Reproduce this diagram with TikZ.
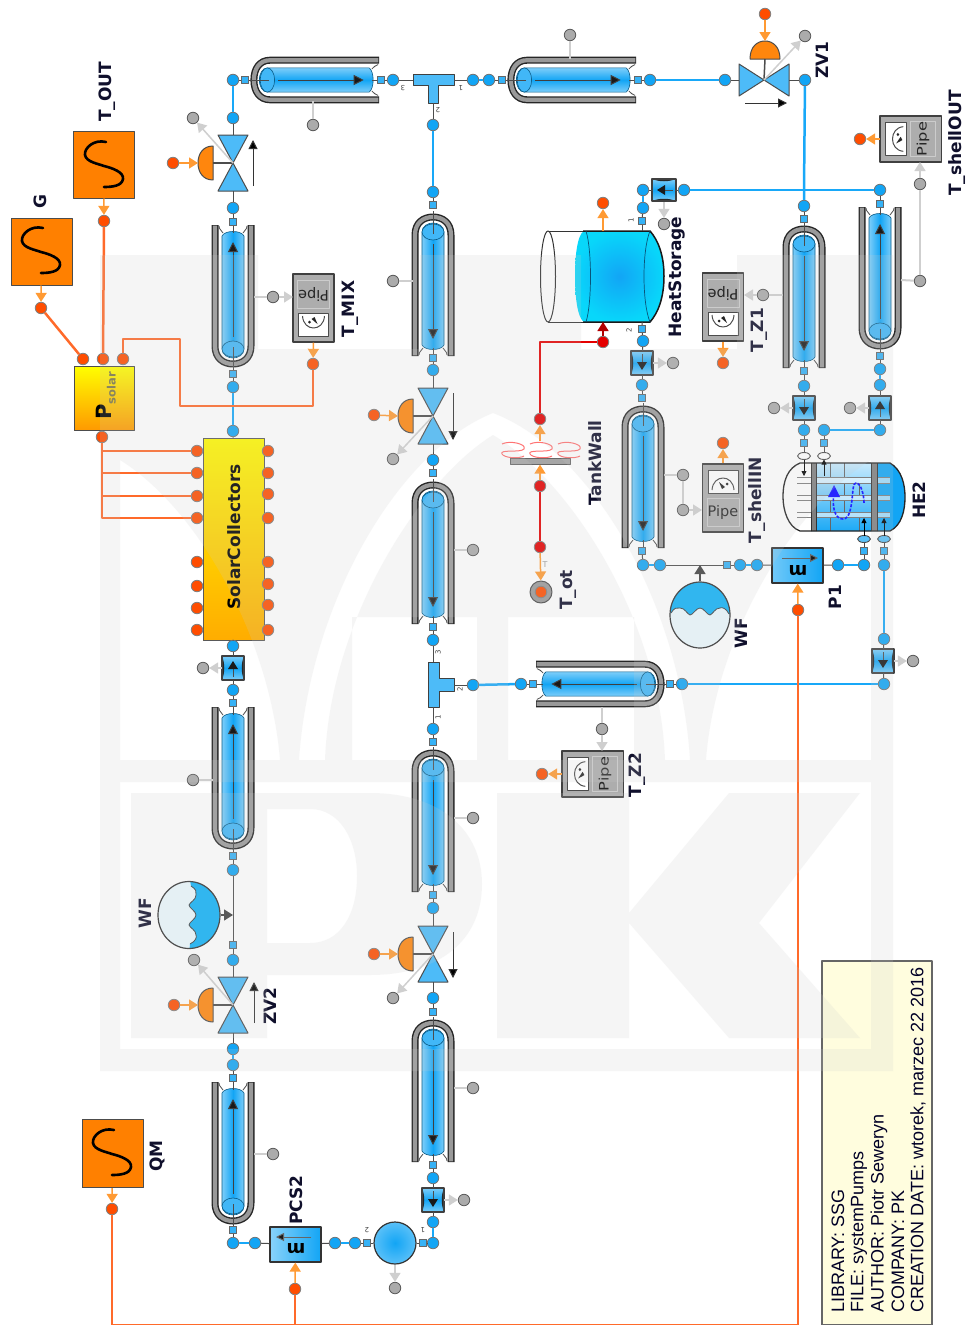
\documentclass[tikz,border=0pt]{standalone}
\usepackage{fontspec}
\setmainfont{DejaVu Sans}
\newfontfamily\arialf{Liberation Sans}
\usetikzlibrary{arrows.meta,calc}
\definecolor{bluec}{HTML}{12A5F5}
\definecolor{bwire}{HTML}{18A8F8}
\definecolor{owire}{HTML}{FF6A2A}
\definecolor{osig}{HTML}{FF9A33}
\definecolor{gsigc}{HTML}{CFCFCF}
\definecolor{lblc}{HTML}{10102C}
\definecolor{orange}{HTML}{FF8000}
\tikzset{
 bport/.style={circle,draw=black!55,fill=bluec,line width=.8pt,minimum size=11.5pt,inner sep=0pt},
 bsq/.style={rectangle,draw=black!60,fill=bluec!85,line width=.8pt,minimum size=7.5pt,inner sep=0pt},
 gport/.style={circle,draw=black!65,fill=black!33,line width=.8pt,minimum size=11.5pt,inner sep=0pt},
 oport/.style={circle,draw=black!50,fill=orange!60!red,line width=.8pt,minimum size=11.5pt,inner sep=0pt},
 rport/.style={circle,draw=black!50,fill=red!90!black,line width=.8pt,minimum size=11.5pt,inner sep=0pt},
 bw/.style={draw=bwire,line width=2.5pt},
 ow/.style={draw=owire,line width=2.5pt},
 rw/.style={draw=red!90!black,line width=2.5pt},
 stem/.style={draw=black!70,line width=1pt},
 gw/.style={draw=gsigc,line width=2pt},
 sig/.style={draw=osig,line width=1.5pt,-{Triangle[length=9pt,width=11pt,fill=osig]}},
 gsig/.style={draw=gsigc,line width=1.5pt,-{Triangle[length=9pt,width=11pt,fill=gsigc]}},
 srcbox/.style={rectangle,draw=black!70,fill=orange,line width=1pt,inner sep=0pt},
 lbl/.style={rotate=90,text=lblc,font=\fontsize{17}{17}\selectfont\bfseries,inner sep=0pt},
 tiny/.style={text=black!75,font=\fontsize{7}{7}\selectfont,inner sep=0pt},
 info/.style={rotate=90,anchor=west,text=black!85!blue,font=\arialf\fontsize{18}{18}\selectfont,inner sep=0pt},
}
\newcommand\bp[3]{\node[bport] (#1) at (#2,#3) {};}
\newcommand\bs[3]{\node[bsq] (#1) at (#2,#3) {};}
\newcommand\gp[3]{\node[gport] (#1) at (#2,#3) {};}
\newcommand\op[3]{\node[oport] (#1) at (#2,#3) {};}
\newcommand\rp[3]{\node[rport] (#1) at (#2,#3) {};}
% pipe: name, open end x,y, rot, xscale, yscale
\newcommand\jpipe[6]{%
\begin{scope}[shift={(#2,#3)},rotate=#4,xscale=#5,yscale=#6]
 \fill[white] (0,-18) -- (121,-18) .. controls (133,-18) and (139,-10) .. (139,0) .. controls (139,10) and (133,18) .. (121,18) -- (0,18) -- cycle;
 \draw[black!85,line width=7pt] (0,-18) -- (121,-18) .. controls (133,-18) and (139,-10) .. (139,0) .. controls (139,10) and (133,18) .. (121,18) -- (0,18);
 \draw[black!40,line width=4.2pt] (.7,-18) -- (121,-18) .. controls (133,-18) and (139,-10) .. (139,0) .. controls (139,10) and (133,18) .. (121,18) -- (.7,18);
 \draw[black!70,line width=.8pt] (1,-14) .. controls (5,-14) and (5,-11) .. (8,-10);
 \draw[black!70,line width=.8pt] (1,14) .. controls (5,14) and (5,11) .. (8,10);
 \shade[top color=bluec!55,bottom color=bluec!55,middle color=bluec,shading angle=#4,draw=black!45!bluec,line width=.6pt]
   (11,-11) -- (124,-11) .. controls (130,-11) and (133,-5) .. (133,0) .. controls (133,5) and (130,11) .. (124,11) -- (11,11) .. controls (5,8) and (5,-8) .. (11,-11) -- cycle;
 \draw[black!45!bluec,fill=bluec!80,line width=.6pt] (124,0) ellipse [x radius=8,y radius=11];
 \draw[stem] (-3,0) -- (8,0);
 \draw[stem] (122,0) -- (145,0);
 \draw[black!75,line width=1pt,-{Triangle[length=10pt,width=10pt,fill=black!90]}] (112,0) -- (17,0);
\end{scope}}
% valve: name,x,y,rot,a,b
\newcommand\valve[6]{%
\begin{scope}[shift={(#2,#3)},rotate=#4]
 \fill[bluec!75,draw=black!70,line width=1pt] (0,0) -- (-#6,-#5) -- (#6,-#5) -- cycle;
 \fill[bluec!75,draw=black!70,line width=1pt] (0,0) -- (-#6,#5) -- (#6,#5) -- cycle;
 \coordinate (#1a) at (0,-#5); \coordinate (#1b) at (0,#5); \coordinate (#1c) at (0,0);
\end{scope}}
% actuator: name, flat centre x,y, rot, r1(depth), r2(half width)
\newcommand\act[6]{%
\begin{scope}[shift={(#2,#3)},rotate=#4]
 \fill[orange!95,draw=black!70,line width=1pt] (0,-#6) .. controls (-.7*#5,-#6) and (-#5,-.5*#6) .. (-#5,0) .. controls (-#5,.5*#6) and (-.7*#5,#6) .. (0,#6) -- cycle;
 \coordinate (#1) at (-#5,0);
\end{scope}}
% flow sensor: name,x,y,rot
\newcommand\fsens[4]{%
\begin{scope}[shift={(#2,#3)},rotate=#4]
 \shade[left color=bluec!55,right color=bluec!55,middle color=bluec,shading angle=0] (-11,-12) rectangle (11,12);
 \fill[black!85] (-11,-12) .. controls (-8,-4) and (-8,4) .. (-11,12) -- cycle;
 \fill[black!85] (11,-12) .. controls (8,-4) and (8,4) .. (11,12) -- cycle;
 \draw[black!75,line width=1.5pt] (-11,-12) rectangle (11,12);
 \draw[black!70,line width=1pt] (0,-9) -- (0,4);
 \fill[black!90] (-5,-1) -- (5,-1) -- (0,7) -- cycle;
 \node[inner sep=0pt,minimum width=22pt,minimum height=24pt] (#1) at (0,0) {};
\end{scope}}
% temperature sensor: name,x,y,rot,sx,sy
\newcommand\sens[6]{%
\begin{scope}[shift={(#2,#3)},rotate=#4,xscale=#5,yscale=#6]
 \fill[black!32,draw=black!75,line width=1.2pt] (-20.5,-34) rectangle (20.5,34);
 \fill[white,draw=black!70,line width=.8pt] (-15,-28) rectangle (15,-5);
 \fill[black!32,draw=black!20,line width=1pt] (-16,0) rectangle (16,28);
 \draw[black!70,line width=1pt] (-11,-8) .. controls (-10,-24) and (10,-24) .. (11,-8);
 \fill[black!85] (-4,-16) -- (2,-11) -- (-1,-9) -- cycle;
 \fill[black!85] (4,-14) circle (1.5);
 \node[transform shape,inner sep=0pt,text=black!85,font=\fontsize{14.5}{15}\selectfont] at (0,14) {Pipe};
 \node[inner sep=0pt,minimum size=1pt] (#1a) at (0,-34) {};
 \node[inner sep=0pt,minimum size=1pt] (#1b) at (0,34) {};
\end{scope}}
% expansion tank: name,x,y,rot,rx,ry
\newcommand\wftank[6]{%
\begin{scope}[shift={(#2,#3)},rotate=#4]
 \begin{scope}
  \clip (0,0) ellipse [x radius=#5,y radius=#6];
  \fill[cyan!8] (-40,-40) rectangle (40,40);
  \fill[bluec!85!cyan] (-40,-40) -- (40,-40) -- (40,0) -- (29,-1) .. controls (26,-7) and (22,-8) .. (20,-7) .. controls (15,-7) and (13,-1) .. (10,0) .. controls (7,0) and (4,-7) .. (0,-7) .. controls (-4,-7) and (-7,0) .. (-10,0) .. controls (-13,-1) and (-15,-7) .. (-20,-7) .. controls (-23,-8) and (-26,-7) .. (-29,-2) -- (-40,0) -- cycle;
  \draw[black!75,line width=.8pt] (-29,-2) .. controls (-26,-7) and (-23,-8) .. (-20,-7) .. controls (-15,-7) and (-13,-1) .. (-10,0) .. controls (-7,0) and (-4,-7) .. (0,-7) .. controls (4,-7) and (7,0) .. (10,0) .. controls (13,-1) and (15,-7) .. (20,-7) .. controls (22,-8) and (26,-7) .. (29,-1);
 \end{scope}
 \draw[black!80,line width=1.2pt] (0,0) ellipse [x radius=#5,y radius=#6];
 \node[inner sep=0pt,minimum size=1pt] (#1) at (0,-#6) {};
\end{scope}}
\newcommand\lab[3]{\node[lbl] (#1) at (#2) {#3};}
\newcommand\sss[2]{\draw[black,line width=2.6pt,line cap=round,shift={(#1,#2)}] (2,-22) .. controls (-10,-25) and (-20,-16) .. (-19,-9) .. controls (-18,-2) and (-5,0) .. (0,2) .. controls (8,4) and (20,8) .. (19,15) .. controls (18,22) and (8,23) .. (0,23);}
\begin{document}
\begin{tikzpicture}[x=1pt,y=-1pt,line join=round]
\useasboundingbox (0,0) rectangle (972,1325);
\fill[white] (0,0) rectangle (972,1325);

%%%%% info box
\node[rectangle,draw=black!60,fill=yellow!13,line width=1.2pt,minimum width=110pt,minimum height=364pt,inner sep=0pt] (infobox) at (877,1143) {};
\node[info] (i1) at (838,1313) {LIBRARY: SSG};
\node[info] (i2) at (859,1313) {FILE: systemPumps};
\node[info] (i3) at (879,1313) {AUTHOR: Piotr Seweryn};
\node[info] (i4) at (898,1313) {COMPANY: PK};
\node[info] (i5) at (918,1313) {CREATION DATE: wtorek, marzec 22 2016};

%%%%% sources and Psolar
\node[srcbox,minimum width=61pt,minimum height=67pt] (G) at (41.5,251.5) {};
\sss{41}{250}
\node[srcbox,minimum width=61pt,minimum height=67pt] (TOUT) at (103.5,164.5) {};
\sss{104}{164}
\node[srcbox,minimum width=61pt,minimum height=68pt] (QM) at (112.5,1153.5) {};
\sss{112}{1152}
\op{Gp}{41}{308}
\op{TOUTp}{104}{221}
\op{QMp}{112}{1209}
\draw[sig] (G) -- (Gp);
\draw[sig] (TOUT) -- (TOUTp);
\draw[sig] (QM) -- (QMp);
\node[rectangle,draw=black!70,top color=yellow,bottom color=orange!80!yellow,line width=1pt,minimum width=60pt,minimum height=64pt,inner sep=0pt] (Ps) at (104,398) {};
\node[rotate=90,inner sep=0pt,text=black] (Pst) at (106,396) {\fontsize{21}{21}\selectfont\bfseries P\raisebox{-4pt}{\textcolor{black!60!yellow}{\fontsize{11.5}{12}\selectfont solar}}};
\op{Ps1}{83}{359}\op{Ps2}{103}{359}\op{Ps3}{123}{359}\op{Ps4}{102}{437}

%%%%% Solar collectors
\node[rectangle,draw=black!65,top color=yellow!95!orange,bottom color=orange!65!yellow,line width=1pt,minimum width=61pt,minimum height=202pt,inner sep=0pt] (SC) at (233.5,539) {};
\node[rotate=90,inner sep=0pt,text=black,font=\fontsize{17}{17}\selectfont\bfseries] (SCt) at (234,537) {SolarCollectors};
\op{SL1}{197}{451}\op{SL2}{197}{473}\op{SL3}{197}{496}\op{SL4}{197}{518}
\op{SL5}{197}{562}\op{SL6}{197}{586}\op{SL7}{197}{608}\op{SL8}{197}{630}
\op{SR1}{268}{451}\op{SR2}{268}{473}\op{SR3}{268}{494}\op{SR4}{268}{518}
\op{SR5}{268}{562}\op{SR6}{268}{584}\op{SR7}{268}{605}\op{SR8}{268}{630}
\coordinate (pb1) at (102,451);\coordinate (pb2) at (102,473);\coordinate (pb3) at (102,496);\coordinate (pb4) at (102,518);
\draw[ow] (Ps4) -- (pb4) -- (SL4);
\draw[ow] (pb1) -- (SL1);\draw[ow] (pb2) -- (SL2);\draw[ow] (pb3) -- (SL3);
\draw[ow] (Gp) -- (Ps1);
\draw[ow] (TOUTp) -- (Ps2);

%%%%% pipes
\jpipe{P1}{379}{80}{180}{.9}{1.1}
\jpipe{P2}{636}{80}{180}{.9}{1.1}
\jpipe{P3}{536}{684}{0}{.9}{1.1}
\jpipe{P4}{233}{225}{-90}{1}{1}
\jpipe{P5}{233}{707}{-90}{1}{1}
\jpipe{P6}{233}{1082}{-90}{1}{1}
\jpipe{P7}{880}{207}{-90}{1}{1}
\jpipe{P8}{433}{356}{90}{1}{1}
\jpipe{P9}{433}{624}{90}{1}{1}
\jpipe{P10}{433}{892}{90}{1}{1}
\jpipe{P11}{433}{1162}{90}{1}{1}
\jpipe{P12}{643}{548}{90}{1}{1}
\jpipe{P13}{804}{368}{90}{1}{1}

%%%%% ports along pipes
% top row
\bp{a1}{233}{80}\bs{a2}{245}{80}\bs{a3}{381}{80}\bp{a4}{393}{80}
\bp{a5}{473}{80}\bp{a6}{489}{80}\bs{a7}{502}{80}\bs{a8}{638}{80}\bp{a9}{650}{80}\bp{a10}{725}{80}\bp{a11}{805}{80}
\gp{g1}{313}{125}\gp{g2}{570}{35}
\coordinate (g1c) at (313,101);\coordinate (g2c) at (570,59);
\draw[gw] (g1) -- (g1c);\draw[gw] (g2) -- (g2c);
\draw[stem] (a1)--(a2);\draw[stem] (a3)--(a4);\draw[stem] (a6)--(a7);\draw[stem] (a8)--(a9);
\draw[bw] (a5)--(a6);\draw[bw] (a9)--(a10);

% top T
\fill[bluec!75,draw=black!75,line width=1pt] (413,74) -- (454,74) -- (454,85) -- (438,85) -- (438,103) -- (428,103) -- (428,85) -- (413,85) -- cycle;
\bp{t1}{433}{125}
\coordinate (T1l) at (413,80);\coordinate (T1r) at (454,80);\coordinate (T1b) at (433,103);
\draw[stem] (a4)--(T1l);\draw[stem] (T1r)--(a5);\draw[stem] (T1b)--(t1);
\node[tiny,rotate=180] (n3a) at (403,88) {3};
\node[tiny,rotate=180] (n1a) at (461,88) {1};
\node[tiny,rotate=180] (n2a) at (438,110) {2};

% left column upper
\valve{V1}{233}{163}{0}{28}{15}
\act{A1}{213}{163}{0}{15}{17}
\op{A1p}{173}{163}
\draw[sig] (A1p) -- (A1);
\draw[stem,line width=1.5pt] (213,163) -- (V1c);
\draw[black!80,line width=1pt,-{Triangle[length=9pt,width=9pt,fill=black]}] (253,186) -- (253,140);
\gp{A1g}{193}{118}
\draw[gsig] (V1c) -- (A1g);
\bp{b1}{233}{118}\bp{b2}{233}{208}\bs{b3}{233}{222}\bs{b4}{233}{374}\bp{b5}{233}{387}\bp{b6}{233}{431}
\draw[bw] (a1)--(b1);\draw[stem] (b1)--(V1a);\draw[stem] (V1b)--(b2)--(b3);\draw[stem] (b4)--(b5);\draw[bw] (b5)--(b6);

% T_MIX
\sens{TM}{313.5}{308}{180}{1}{1}
\gp{TMg}{273}{297}\op{TMo}{313}{364}
\coordinate (P4s) at (254,297);\coordinate (TMin) at (293,297);
\draw[gw] (P4s)--(TMg);
\draw[gsig] (TMg) -- (TMin);
\draw[sig] (TMa) -- (TMo);
\coordinate (w1) at (123,339);\coordinate (w2) at (180,339);\coordinate (w3) at (180,406);\coordinate (w4) at (313,406);
\draw[ow] (Ps3) -- (w1) -- (w2) -- (w3) -- (w4) -- (TMo);

% left column lower
\bp{c1}{233}{646}\fsens{FS1}{233}{668}{180}\bp{c2}{233}{690}\bs{c3}{233}{703}\bs{c4}{233}{856}\bp{c5}{233}{870}\bs{c6}{233}{945}\bp{c7}{233}{960}
\gp{c1g}{203}{668}\draw[gsig] (FS1) -- (c1g);
\draw[stem] (c2)--(FS1);\draw[stem] (FS1)--(c1);\draw[stem] (c2)--(c3);\draw[stem] (c4)--(c5)--(c6)--(c7);
\gp{g5}{193}{780}\coordinate (g5c) at (213,780);\draw[gw] (g5)--(g5c);
\wftank{W1}{189}{915}{-90}{33.5}{31}
\coordinate (W1t) at (233,915);
\draw[black!75,line width=1.5pt,-{Triangle[length=9pt,width=11pt,fill=black!75]}] (W1) -- (W1t);
\valve{V2}{233}{1005}{0}{28}{15}
\act{A2}{213}{1005}{0}{15}{17}
\op{A2p}{174}{1005}
\draw[sig] (A2p) -- (A2);
\draw[stem,line width=1.5pt] (213,1005) -- (V2c);
\draw[black!80,line width=1pt,-{Triangle[length=9pt,width=9pt,fill=black]}] (254,1023) -- (254,982);
\gp{A2g}{194}{960}\draw[gsig] (V2c) -- (A2g);
\bp{c8}{233}{1049}\bp{c9}{233}{1065}\bs{c10}{233}{1078}\bs{c11}{233}{1230}\bp{c12}{233}{1243}\bp{c13}{255}{1243}
\draw[stem] (c7)--(V2a);\draw[stem] (V2b)--(c8);\draw[bw] (c8)--(c9);\draw[stem] (c9)--(c10);\draw[stem] (c11)--(c12);\draw[bw] (c12)--(c13);
\gp{g6}{273}{1154}\coordinate (g6c) at (254,1154);\draw[gw] (g6)--(g6c);
\draw[stem] (SC)--(c1);\draw[stem] (b6)--(SC);

% pump PCS2
\node[rectangle,draw=black!80,left color=bluec!50,right color=bluec,line width=1.2pt,minimum width=51pt,minimum height=35pt,inner sep=0pt] (PCS) at (295.5,1244.5) {};
\draw[black!60,line width=1pt,-{Triangle[length=8pt,width=8pt,fill=black!90]}] (311,1237) -- (276,1237);
\node[rotate=180,inner sep=0pt,text=black,font=\fontsize{18}{18}\selectfont\bfseries] (PCSt) at (296,1249) {m};
\op{PCSo}{295}{1289}
\draw[sig] (PCSo) -- (PCS);
\bp{d1}{335}{1243}\bp{d2}{355}{1243}\bs{d3}{367}{1243}
\node[circle,draw=black!80,inner color=bluec,outer color=bluec!70,line width=1.2pt,minimum size=42pt,inner sep=0pt] (BIG) at (395,1243) {};
\bs{d4}{423}{1243}\bp{d5}{433}{1243}\bp{d6}{433}{1222}\fsens{FS2}{433}{1200}{0}\bp{d7}{433}{1178}\bs{d8}{433}{1165}
\gp{d9}{395}{1288}\draw[gsig] (BIG) -- (d9);
\gp{d10}{464}{1200}\draw[gsig] (FS2) -- (d10);
\draw[stem] (c13)--(PCS);\draw[stem] (PCS)--(d1);\draw[bw] (d1)--(d2);\draw[stem] (d2)--(d3)--(BIG);\draw[stem] (BIG)--(d4)--(d5);\draw[bw] (d5)--(d6);\draw[stem] (d6)--(FS2);\draw[stem] (FS2)--(d7)--(d8);
\node[tiny,rotate=180] (n2c) at (367,1230) {2};
\node[tiny,rotate=180] (n1c) at (423,1230) {1};

% middle column
\bp{e1}{433}{192}\bs{e2}{433}{205}\bs{e3}{433}{358}\bp{e4}{433}{370}
\draw[bw] (t1)--(e1);\draw[stem] (e1)--(e2);\draw[stem] (e3)--(e4);
\gp{g7}{393}{281}\coordinate (g7c) at (413,281);\draw[gw] (g7)--(g7c);
\valve{V3}{433}{416}{0}{28}{15}
\act{A3}{413}{416}{0}{15}{17}
\op{A3p}{374}{415}\draw[sig] (A3p) -- (A3);
\draw[stem,line width=1.5pt] (413,416) -- (V3c);
\draw[black!80,line width=1pt,-{Triangle[length=9pt,width=9pt,fill=black]}] (453,393) -- (453,440);
\gp{A3g}{393}{459}\draw[gsig] (V3c) -- (A3g);
\bp{e5}{433}{460}\bs{e6}{433}{473}
\draw[stem] (e4)--(V3a);\draw[stem] (V3b)--(e5)--(e6);
\gp{g8}{473}{550}\coordinate (g8c) at (454,550);\draw[gw] (g8)--(g8c);
\bs{e7}{433}{627}\bp{e8}{433}{640}\bp{e9}{433}{729}\bs{e10}{433}{742}\bs{e11}{433}{895}\bp{e12}{433}{908}
\fill[bluec!75,draw=black!75,line width=1pt] (428,662) -- (439,662) -- (439,678) -- (454,678) -- (454,691) -- (439,691) -- (439,707) -- (428,707) -- cycle;
\coordinate (T2t) at (433,662);\coordinate (T2b) at (433,707);\coordinate (T2r) at (454,685);
\bp{e13}{473}{685}
\draw[stem] (e7)--(e8)--(T2t);\draw[stem] (T2b)--(e9)--(e10);\draw[stem] (e11)--(e12);\draw[stem] (T2r)--(e13);
\node[tiny,rotate=90] (n3b) at (438,652) {3};
\node[tiny,rotate=90] (n2b) at (460,689) {2};
\node[tiny,rotate=90] (n1b) at (438,717) {1};
\gp{g9}{473}{818}\coordinate (g9c) at (454,818);\draw[gw] (g9)--(g9c);
\valve{V4}{433}{954}{0}{28}{15}
\act{A4}{413}{954}{0}{15}{17}
\op{A4p}{374}{954}\draw[sig] (A4p) -- (A4);
\draw[stem,line width=1.5pt] (413,954) -- (V4c);
\draw[black!80,line width=1pt,-{Triangle[length=9pt,width=9pt,fill=black]}] (453,932) -- (453,978);
\gp{A4g}{393}{998}\draw[gsig] (V4c) -- (A4g);
\bp{e14}{433}{998}\bs{e15}{433}{1012}
\draw[stem] (e12)--(V4a);\draw[stem] (V4b)--(e14)--(e15);
\gp{g10}{473}{1088}\coordinate (g10c) at (454,1088);\draw[gw] (g10)--(g10c);

% ZV1
\valve{V5}{764}{80}{90}{25}{16}
\act{A5}{765}{59}{-90}{18}{15}
\op{A5p}{765}{14}\draw[sig] (A5p) -- (A5);
\draw[stem,line width=1.5pt] (765,59) -- (V5c);
\draw[black!80,line width=1pt,-{Triangle[length=9pt,width=9pt,fill=black]}] (745,103) -- (787,103);
\gp{A5g}{805}{36}\draw[gsig] (V5c) -- (A5g);
\draw[stem] (a10)--(V5a);\draw[stem] (V5b)--(a11);

% right side
\bp{f1}{804}{206}\bs{f2}{804}{219}\bs{f3}{804}{371}\bp{f4}{804}{386}\fsens{FS3}{804}{408}{0}\bp{f5}{804}{430}\bs{f6}{804}{443}
\bp{f7}{880}{190}\bs{f8}{880}{204}\bs{f9}{880}{356}\bp{f10}{880}{369}\bp{f11}{880}{385}\fsens{FS4}{880}{408}{180}\bp{f12}{880}{430}\bp{f13}{824}{430}\bs{f14}{824}{443}
\gp{f15}{774}{408}\draw[gsig] (FS3) -- (f15);
\gp{f16}{850}{408}\draw[gsig] (FS4) -- (f16);
\bp{f17}{684}{190}\fsens{FS5}{664}{190}{-90}\bp{f18}{643}{190}\bp{f19}{643}{208}\bs{f20}{642}{221}
\gp{f21}{664}{224}\draw[gsig] (FS5) -- (f21);
\coordinate (j1) at (804,190);
\draw[bw] (f17)--(f7);\draw[bw] (a11)--(j1)--(f1);
\draw[stem] (f1)--(f2);\draw[stem] (f3)--(f4)--(FS3);\draw[stem] (FS3)--(f5)--(f6);
\draw[stem] (f7)--(f8);\draw[stem] (f9)--(f10);\draw[bw] (f10)--(f11);\draw[stem] (f11)--(FS4);\draw[stem] (FS4)--(f12);\draw[bw] (f12)--(f13);\draw[stem] (f13)--(f14);
\draw[stem] (f17)--(FS5);\draw[stem] (FS5)--(f18);\draw[bw] (f18)--(f19);\draw[stem] (f19)--(f20);
\sens{TZ1}{723}{307}{180}{1}{1}
\gp{tz1g}{763}{295}\coordinate (tz1c) at (783,295);\coordinate (tz1in) at (744,295);
\draw[gw] (tz1c)--(tz1g);\draw[gsig] (tz1g)--(tz1in);
\op{tz1o}{723}{363}\draw[sig] (TZ1a)--(tz1o);
\sens{TSO}{910.5}{139}{90}{1.12}{.9}
\gp{tso1}{920}{281}\gp{tso2}{920}{184}\coordinate (tso0) at (901,280);\coordinate (tsoin) at (920,162);\coordinate (tsoout) at (880,139);
\draw[gw] (tso0)--(tso1);\draw[gw] (tso1)--(tso2);\draw[gsig] (tso2)--(tsoin);
\op{tsoo}{860}{139}\draw[sig] (tsoout)--(tsoo);

% heat storage
\draw[black!80,line width=1pt,fill=white] (548,231) -- (603,231) -- (603,322) -- (548,322);
\draw[black!80,line width=1pt,fill=white] (548,276.5) ellipse [x radius=7.5,y radius=45.5];
\shade[inner color=bluec,outer color=cyan!55!bluec] (575,276) .. controls (575,245) and (580,231) .. (585,231) -- (650,231) .. controls (658,240) and (664,255) .. (664,276) .. controls (664,298) and (658,313) .. (650,322) -- (585,322) .. controls (580,322) and (575,307) .. (575,276) -- cycle;
\draw[black!90,line width=1.5pt] (583,231) -- (650,231) .. controls (658,240) and (664,255) .. (664,276) .. controls (664,298) and (658,313) .. (650,322) -- (583,322);
\draw[black!50!bluec,line width=.7pt] (586,231) .. controls (592,250) and (592,303) .. (586,322);
\draw[black!50!bluec,line width=.7pt] (650,231) .. controls (642,250) and (642,303) .. (650,322);
\coordinate (tank1) at (642,231);\coordinate (tank2) at (642,322);\coordinate (tankq) at (603,322);\coordinate (tankt) at (603,231);
\draw[stem] (f20)--(tank1);
\op{ho}{603}{203}\draw[sig] (tankt)--(ho);
\rp{hr}{603}{342}
\draw[draw=red!70!black,line width=1.5pt,-{Triangle[length=9pt,width=11pt,fill=red!70!black]}] (hr)--(tankq);
\bs{h1}{642}{329}\bp{h2}{643}{341}\fsens{FS6}{642}{363}{0}\gp{h3}{673}{363}\bp{h4}{642}{385}\bs{h5}{642}{398}
\draw[gsig] (FS6)--(h3);
\draw[stem] (tank2)--(h1)--(h2)--(FS6);\draw[stem] (FS6)--(h4)--(h5);
\node[tiny,rotate=90] (n1h) at (631,220) {1};
\node[tiny,rotate=90] (n2h) at (629,330) {2};

% T_shellIN
\sens{TSI}{723}{498}{0}{1}{1}
\gp{tsi1}{683}{475}\gp{tsi2}{683}{510}\coordinate (tsi0) at (664,475);\coordinate (tsiin) at (702,510);
\draw[gw] (tsi0)--(tsi1);\draw[gw] (tsi1)--(tsi2);\draw[gsig] (tsi2)--(tsiin);
\op{tsio}{723}{443}\draw[sig] (TSIa)--(tsio);

% heat wall
\node[rectangle,draw=black!60,fill=black!35,minimum width=60pt,minimum height=5.5pt,inner sep=0pt,line width=.8pt] (TW) at (540,461.5) {};
\foreach \xo in {513,541,569}{
 \draw[red!55,line width=1pt] (\xo-11,444) .. controls (\xo-3,440) and (\xo+14,444) .. (\xo+11,449) .. controls (\xo+8,453) and (\xo-14,449) .. (\xo-11,454) .. controls (\xo-9,458) and (\xo+6,459) .. (\xo+11,456);}
\rp{w5}{540}{419}\rp{w6}{540}{486}\rp{w7}{540}{547}
\coordinate (w5c) at (540,342);
\coordinate (TWt) at (540,441);
\draw[sig] (TWt)--(w5);
\draw[sig] (w6)--(TW);
\draw[rw] (w5)--(w5c)--(hr);
\draw[rw] (w6)--(w7);
\node[circle,draw=black!70,fill=black!40,minimum size=22pt,inner sep=0pt,line width=1pt] (Tot) at (541,592) {};
\op{Toto}{541}{592}
\draw[sig] (w7)--(Tot);
\node[tiny,text=black!40,rotate=0,font=\fontsize{8}{8}\selectfont] (nT) at (545,565) {T};

% T_Z2 and horizontal pipe
\bp{k1}{521}{684}\bs{k2}{533}{684}\bs{k3}{670}{684}\bp{k4}{682}{684}\bp{k5}{884}{684}\fsens{FS7}{883}{661}{0}\bp{k6}{884}{639}\gp{k7}{913}{661}
\draw[gsig] (FS7)--(k7);
\draw[bw] (e13)--(k1);\draw[stem] (k1)--(k2);\draw[stem] (k3)--(k4);\draw[bw] (k4)--(k5);\draw[stem] (k5)--(FS7);\draw[stem] (FS7)--(k6);
\gp{tz2g}{602}{729}\coordinate (tz2c) at (602,707);\coordinate (tz2in) at (602,751);\coordinate (tz2out) at (562,774);
\sens{TZ2}{592.5}{774}{90}{1.12}{.9}
\draw[gw] (tz2c)--(tz2g);\draw[gsig] (tz2g)--(tz2in);
\op{tz2o}{542}{774}\draw[sig] (tz2out)--(tz2o);

% lower right pump
\bs{m1}{642}{551}\bp{m2}{643}{565}\bp{m3}{660}{565}\bs{m4}{727}{565}\bp{m5}{740}{565}\bp{m6}{757}{565}
\node[rectangle,draw=black!80,left color=bluec!60,right color=bluec,line width=1.2pt,minimum width=51pt,minimum height=35pt,inner sep=0pt] (P1) at (797.5,565.5) {};
\draw[black!60,line width=1pt,-{Triangle[length=8pt,width=8pt,fill=black!90]}] (782,558) -- (818,558);
\node[rotate=180,inner sep=0pt,text=black,font=\fontsize{18}{18}\selectfont\bfseries] (P1t) at (798,571) {m};
\op{P1o}{798}{610}
\draw[sig] (P1o)--(P1);
\bp{m7}{838}{565}\bp{m8}{864}{565}\bs{m9}{864}{551}\bp{m10}{884}{565}\bs{m11}{884}{551}
\draw[stem] (m1)--(m2);\draw[bw] (m2)--(m3);\draw[stem] (m3)--(m4)--(m5);\draw[bw] (m5)--(m6);\draw[stem] (m6)--(P1);\draw[stem] (P1)--(m7);\draw[bw] (m7)--(m8);\draw[stem] (m8)--(m9);\draw[stem] (m10)--(m11);
\draw[bw] (m10)--(k6);
\wftank{W2}{700}{615}{0}{30}{33}
\coordinate (W2t) at (700,565);
\draw[black!75,line width=1.5pt,-{Triangle[length=9pt,width=11pt,fill=black!75]}] (W2) -- (W2t);

% bottom orange bus
\coordinate (bus1) at (112,1325.3);\coordinate (bus2) at (798,1325.3);\coordinate (bus3) at (295,1325.3);
\draw[ow] (QMp)--(bus1)--(bus2)--(P1o);
\draw[ow] (PCSo)--(bus3);

% HE2
\begin{scope}
 \clip (800,463) -- (890,463) .. controls (902,470) and (905,485) .. (905,497) .. controls (905,510) and (902,525) .. (890,531) -- (800,531) .. controls (788,527) and (783,510) .. (783,497) .. controls (783,480) and (788,468) .. (800,463) -- cycle;
 \fill[white] (780,460) rectangle (910,535);
 \shade[top color=bluec!20,bottom color=bluec] (811,460) rectangle (872,535);
 \fill[bluec] (872,460) rectangle (910,535);
 \draw[black!60,line width=.8pt] (830,463) -- (830,477) (844,463) -- (844,477) (830,500) -- (830,512) (859,483) -- (859,495) (844,483) -- (844,495) (830,517) -- (830,531) (859,517) -- (859,531) (844,500) -- (844,512);
 \foreach \ya/\yb in {477/483,495/500,512/517}{
  \fill[white,opacity=.6] (797,\ya) rectangle (890,\yb);
  \draw[black!50,line width=.9pt] (797,\ya) -- (890,\ya) (797,\yb) -- (890,\yb);}
 \fill[black!50,draw=black!80,line width=.8pt] (811,460) rectangle (816,535);
 \fill[black!50,draw=black!80,line width=.8pt] (871,460) rectangle (877,535);
\end{scope}
\draw[black!85,line width=1.3pt] (800,463) -- (890,463) .. controls (902,470) and (905,485) .. (905,497) .. controls (905,510) and (902,525) .. (890,531) -- (800,531) .. controls (788,527) and (783,510) .. (783,497) .. controls (783,480) and (788,468) .. (800,463) -- cycle;
\draw[blue!85,line width=1.6pt,dash pattern=on 3pt off 1.5pt] (834,494) .. controls (832,505) and (834,519) .. (843,519) .. controls (850,519) and (851,506) .. (852,500) .. controls (853,490) and (853,483) .. (856,483) .. controls (861,483) and (864,495) .. (864,503);
\fill[blue!85] (828,497) -- (840,497) -- (834,485) -- cycle;
\foreach \xx in {804,824}{
 \draw[black!70,fill=white,line width=.9pt] (\xx,456) ellipse [x radius=6.5,y radius=3.5];}
\foreach \xx in {864,884}{
 \draw[black!70,fill=bluec!70,line width=.9pt] (\xx,539) ellipse [x radius=6.5,y radius=3.5];}
\coordinate (f6e) at (804,452.5);\coordinate (f14e) at (824,452.5);\coordinate (m9e) at (864,542.5);\coordinate (m11e) at (884,542.5);
\draw[stem] (f6)--(f6e);\draw[stem] (f14)--(f14e);\draw[stem] (m9)--(m9e);\draw[stem] (m11)--(m11e);
\draw[black,line width=.8pt,-{Triangle[length=5pt,width=5pt]}] (804,459.5) -- (804,476);
\draw[black,line width=.8pt,-{Triangle[length=5pt,width=5pt]}] (824,476) -- (824,459.5);
\draw[black,line width=.8pt,-{Triangle[length=5pt,width=5pt]}] (864,535.5) -- (864,518);
\draw[black,line width=.8pt,-{Triangle[length=5pt,width=5pt]}] (884,535.5) -- (884,518);

%%%%% labels
\lab{lG}{40,202}{G}
\lab{lTO}{107,92}{T\_OUT}
\lab{lTM}{350,309}{T\_MIX}
\lab{lZ1}{759,330}{T\_Z1}
\lab{lZ2}{637,775}{T\_Z2}
\lab{lTSO}{957,143}{T\_shellOUT}
\lab{lTSI}{757,500}{T\_shellIN}
\lab{lTot}{568,590}{T\_ot}
\lab{lTW}{595,463}{TankWall}
\lab{lHS}{677,277}{HeatStorage}
\lab{lZV1}{822,60}{ZV1}
\lab{lZV2}{270,1006}{ZV2}
\lab{lP1}{835,597}{P1}
\lab{lPCS}{296,1200}{PCS2}
\lab{lQM}{157,1156}{QM}
\lab{lHE}{919,500}{HE2}
\lab{lW1}{145,913}{WF}
\lab{lW2}{741,633}{WF}

%%%%% watermark overlay
\fill[black!20,opacity=.18,even odd rule]
 (100,255) -- (258,255) -- (258,349) -- (420,349) -- (420,255) -- (581,255) -- (581,349) -- (737,349) -- (737,255) -- (893,255) -- (893,1071) -- (100,1071) -- cycle
 (120,782) rectangle (871,1049)
 (131,793) -- (370,793) .. controls (440,793) and (482,830) .. (482,884) .. controls (482,940) and (440,975) .. (370,975) -- (267,975) -- (267,1038) -- (131,1038) -- cycle
 (267,809) -- (310,809) .. controls (340,809) and (357,840) .. (357,876) .. controls (357,915) and (340,943) .. (310,943) -- (267,943) -- cycle
 (497,793) -- (629,793) -- (629,913) -- (729,793) -- (860,793) -- (759,923) -- (860,1038) -- (729,1038) -- (629,923) -- (629,1038) -- (497,1038) -- cycle
 (120,460) .. controls (200,510) and (270,640) .. (280,760) -- (120,760) -- cycle
 (871,460) .. controls (790,510) and (715,640) .. (706,760) -- (871,760) -- cycle
 (299,760) .. controls (310,600) and (400,450) .. (493,413) .. controls (590,450) and (680,600) .. (690,760) -- (665,760) .. controls (660,620) and (570,480) .. (493,435) .. controls (420,480) and (330,620) .. (325,760) -- cycle
 (352,617) rectangle (477,760)
 (508,617) rectangle (634,760);
\end{tikzpicture}
\end{document}
